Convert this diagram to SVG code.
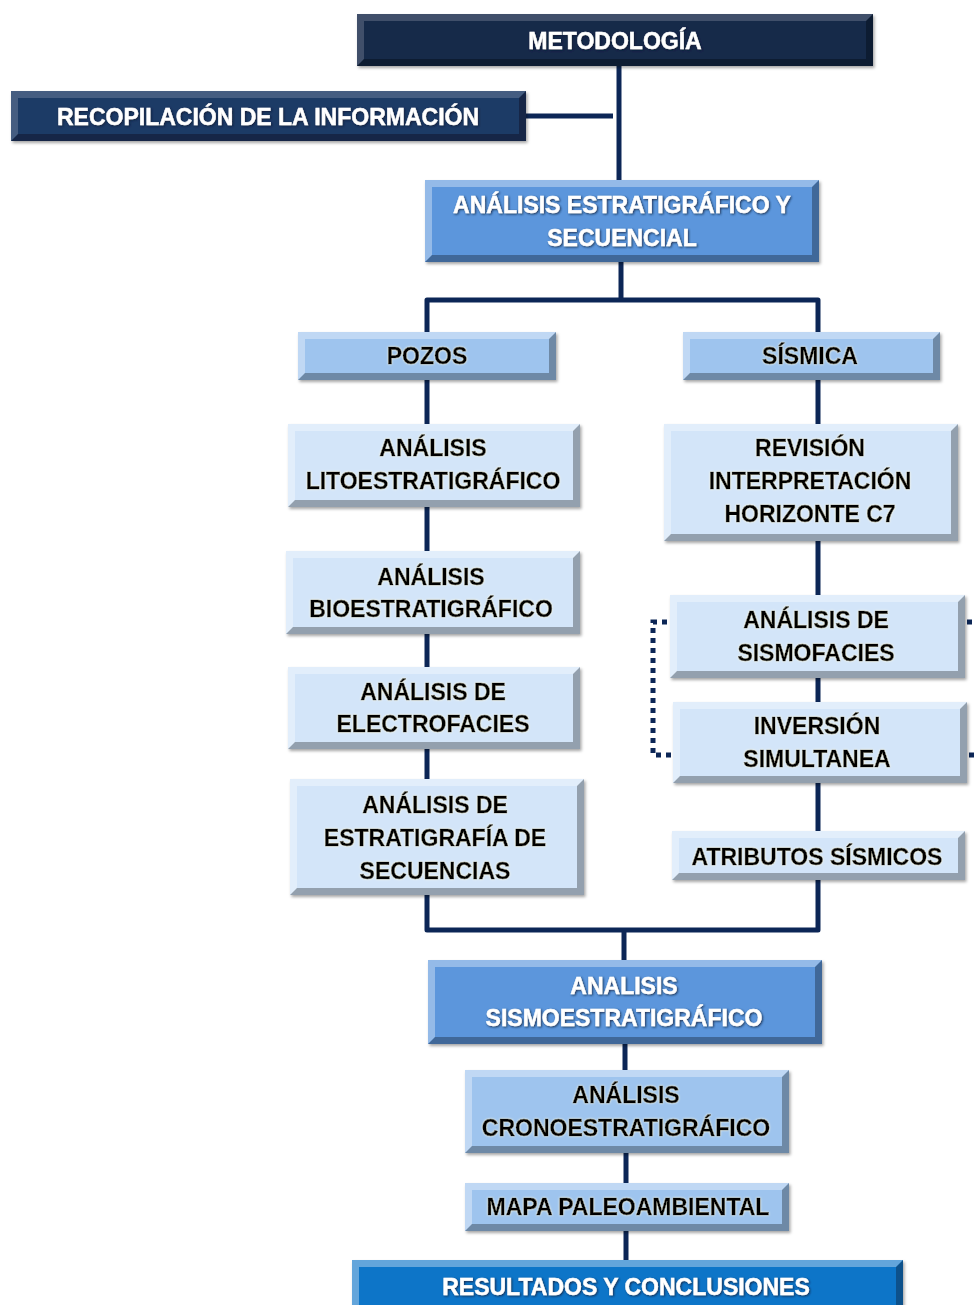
<svg xmlns="http://www.w3.org/2000/svg" width="977" height="1305" viewBox="0 0 977 1305">
<defs>
<filter id="sh" x="-5%" y="-20%" width="110%" height="140%"><feDropShadow dx="1.5" dy="2" stdDeviation="1.5" flood-color="#000" flood-opacity="0.35"/></filter>
<filter id="tsw" x="-5%" y="-30%" width="110%" height="160%"><feDropShadow dx="1" dy="1" stdDeviation="0.8" flood-color="#0a1a33" flood-opacity="0.8"/></filter>
<filter id="tsb" x="-5%" y="-30%" width="110%" height="160%"><feDropShadow dx="0" dy="0" stdDeviation="1.2" flood-color="#fffbe0" flood-opacity="1"/></filter>
</defs>
<style>
.navy{fill:#17294a}
.navy2{fill:#1d3a66}
.mid{fill:#5b96dc}
.light{fill:#9ec4ee}
.pale{fill:#d3e5f9}
.bright{fill:#1175c8}
.hl{fill:#fff;opacity:0.35}
.hln{fill:#fff;opacity:0.18}
.dk{fill:#000;opacity:0.3}
text{font-family:"Liberation Sans",Arial,sans-serif;font-weight:bold;font-size:23px;text-anchor:middle;stroke-width:0.4}
.w{fill:#fff;stroke:#fff;filter:url(#tsw)}
.b{fill:#000;stroke:#000;filter:url(#tsb)}
.con{fill:none;stroke:#0c2656;stroke-width:5;stroke-linejoin:round}
.dot{fill:none;stroke:#0c2656;stroke-width:5;stroke-dasharray:5 5}
</style>
<rect width="977" height="1305" fill="#fff"/>
<g id="connectors">
<path class="con" d="M619,66 V180"/>
<path class="con" d="M526,116 H613"/>
<path class="con" d="M621,262 V300"/>
<path class="con" d="M427,332 V300 H818 V332"/>
<path class="con" d="M427,380 V424 M427,507 V551 M427,634 V667 M427,749 V779"/>
<path class="con" d="M818,380 V424 M818,541 V595 M818,678 V702 M818,783 V831"/>
<path class="con" d="M427,895 V930 H818 V880"/>
<path class="con" d="M624,930 V960 M625,1044 V1070 M626,1153 V1183 M626,1231 V1260"/>
<path class="dot" d="M667,622 H653 V755 H672"/>
<path class="dot" d="M967,622 H977 M969,755 H977"/>
</g>
<g id="n-metodologia" transform="translate(357,14)" filter="url(#sh)"><rect class="navy" width="516" height="52"/><path class="hln" d="M0,0 H516 L509,7 H7 V45 L0,52 Z"/><path class="dk" d="M516,0 V52 H0 L7,45 H509 V7 Z"/><text class="w" x="258" y="35" font-size="25.5">METODOLOGÍA</text></g>
<g id="n-recopilacion" transform="translate(11,91)" filter="url(#sh)"><rect class="navy2" width="515" height="50"/><path class="hln" d="M0,0 H515 L508,7 H7 V43 L0,50 Z"/><path class="dk" d="M515,0 V50 H0 L7,43 H508 V7 Z"/><text class="w" x="257" y="34" font-size="25">RECOPILACIÓN DE LA INFORMACIÓN</text></g>
<g id="n-estratigrafico" transform="translate(425,180)" filter="url(#sh)"><rect class="mid" width="394" height="82"/><path class="hl" d="M0,0 H394 L387,7 H7 V75 L0,82 Z"/><path class="dk" d="M394,0 V82 H0 L7,75 H387 V7 Z"/><text class="w" x="197" y="33">ANÁLISIS ESTRATIGRÁFICO Y</text><text class="w" x="197" y="66">SECUENCIAL</text></g>
<g id="n-pozos" transform="translate(298,332)" filter="url(#sh)"><rect class="light" width="258" height="48"/><path class="hl" d="M0,0 H258 L251,7 H7 V41 L0,48 Z"/><path class="dk" d="M258,0 V48 H0 L7,41 H251 V7 Z"/><text class="b" x="129" y="32">POZOS</text></g>
<g id="n-sismica" transform="translate(683,332)" filter="url(#sh)"><rect class="light" width="257" height="48"/><path class="hl" d="M0,0 H257 L250,7 H7 V41 L0,48 Z"/><path class="dk" d="M257,0 V48 H0 L7,41 H250 V7 Z"/><text class="b" x="127" y="32">SÍSMICA</text></g>
<g id="n-lito" transform="translate(288,424)" filter="url(#sh)"><rect class="pale" width="292" height="83"/><path class="hl" d="M0,0 H292 L285,7 H7 V76 L0,83 Z"/><path class="dk" d="M292,0 V83 H0 L7,76 H285 V7 Z"/><text class="b" x="145" y="32">ANÁLISIS</text><text class="b" x="145" y="65">LITOESTRATIGRÁFICO</text></g>
<g id="n-bio" transform="translate(286,551)" filter="url(#sh)"><rect class="pale" width="294" height="83"/><path class="hl" d="M0,0 H294 L287,7 H7 V76 L0,83 Z"/><path class="dk" d="M294,0 V83 H0 L7,76 H287 V7 Z"/><text class="b" x="145" y="34">ANÁLISIS</text><text class="b" x="145" y="66">BIOESTRATIGRÁFICO</text></g>
<g id="n-electro" transform="translate(288,667)" filter="url(#sh)"><rect class="pale" width="292" height="82"/><path class="hl" d="M0,0 H292 L285,7 H7 V75 L0,82 Z"/><path class="dk" d="M292,0 V82 H0 L7,75 H285 V7 Z"/><text class="b" x="145" y="33">ANÁLISIS DE</text><text class="b" x="145" y="65">ELECTROFACIES</text></g>
<g id="n-secuencias" transform="translate(290,779)" filter="url(#sh)"><rect class="pale" width="294" height="116"/><path class="hl" d="M0,0 H294 L287,7 H7 V109 L0,116 Z"/><path class="dk" d="M294,0 V116 H0 L7,109 H287 V7 Z"/><text class="b" x="145" y="34">ANÁLISIS DE</text><text class="b" x="145" y="67">ESTRATIGRAFÍA DE</text><text class="b" x="145" y="100">SECUENCIAS</text></g>
<g id="n-revision" transform="translate(664,424)" filter="url(#sh)"><rect class="pale" width="294" height="117"/><path class="hl" d="M0,0 H294 L287,7 H7 V110 L0,117 Z"/><path class="dk" d="M294,0 V117 H0 L7,110 H287 V7 Z"/><text class="b" x="146" y="32">REVISIÓN</text><text class="b" x="146" y="65">INTERPRETACIÓN</text><text class="b" x="146" y="98">HORIZONTE C7</text></g>
<g id="n-sismofacies" transform="translate(670,595)" filter="url(#sh)"><rect class="pale" width="295" height="83"/><path class="hl" d="M0,0 H295 L288,7 H7 V76 L0,83 Z"/><path class="dk" d="M295,0 V83 H0 L7,76 H288 V7 Z"/><text class="b" x="146" y="33">ANÁLISIS DE</text><text class="b" x="146" y="66">SISMOFACIES</text></g>
<g id="n-inversion" transform="translate(673,702)" filter="url(#sh)"><rect class="pale" width="294" height="81"/><path class="hl" d="M0,0 H294 L287,7 H7 V74 L0,81 Z"/><path class="dk" d="M294,0 V81 H0 L7,74 H287 V7 Z"/><text class="b" x="144" y="32">INVERSIÓN</text><text class="b" x="144" y="65">SIMULTANEA</text></g>
<g id="n-atributos" transform="translate(672,831)" filter="url(#sh)"><rect class="pale" width="293" height="49"/><path class="hl" d="M0,0 H293 L286,7 H7 V42 L0,49 Z"/><path class="dk" d="M293,0 V49 H0 L7,42 H286 V7 Z"/><text class="b" x="145" y="34">ATRIBUTOS SÍSMICOS</text></g>
<g id="n-sismoestrat" transform="translate(428,960)" filter="url(#sh)"><rect class="mid" width="394" height="84"/><path class="hl" d="M0,0 H394 L387,7 H7 V77 L0,84 Z"/><path class="dk" d="M394,0 V84 H0 L7,77 H387 V7 Z"/><text class="w" x="196" y="34">ANALISIS</text><text class="w" x="196" y="66">SISMOESTRATIGRÁFICO</text></g>
<g id="n-crono" transform="translate(465,1070)" filter="url(#sh)"><rect class="light" width="324" height="83"/><path class="hl" d="M0,0 H324 L317,7 H7 V76 L0,83 Z"/><path class="dk" d="M324,0 V83 H0 L7,76 H317 V7 Z"/><text class="b" x="161" y="33">ANÁLISIS</text><text class="b" x="161" y="66">CRONOESTRATIGRÁFICO</text></g>
<g id="n-mapa" transform="translate(465,1183)" filter="url(#sh)"><rect class="light" width="324" height="48"/><path class="hl" d="M0,0 H324 L317,7 H7 V41 L0,48 Z"/><path class="dk" d="M324,0 V48 H0 L7,41 H317 V7 Z"/><text class="b" x="163" y="32">MAPA PALEOAMBIENTAL</text></g>
<g id="n-resultados" transform="translate(352,1260)" filter="url(#sh)"><rect class="bright" width="551" height="52"/><path class="hl" d="M0,0 H551 L544,7 H7 V45 L0,52 Z"/><path class="dk" d="M551,0 V52 H0 L7,45 H544 V7 Z"/><text class="w" x="274" y="35">RESULTADOS Y CONCLUSIONES</text></g>
</svg>
